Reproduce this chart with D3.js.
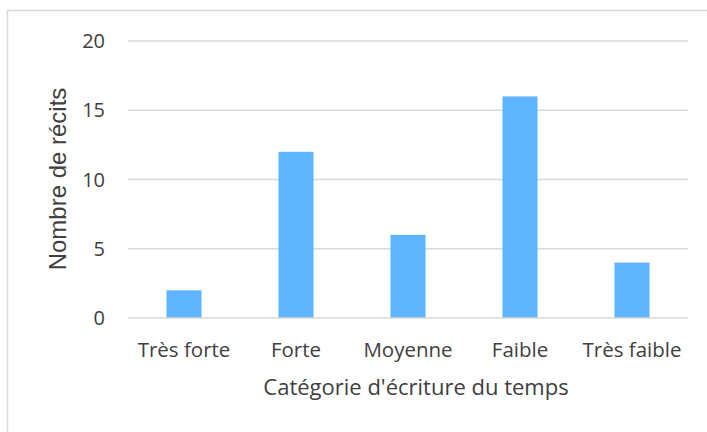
<!DOCTYPE html>
<html>
<head>
<meta charset="utf-8">
<script src="https://cdn.jsdelivr.net/npm/d3@7"></script>
<style>
  html, body { margin: 0; padding: 0; background: #fff; }
  svg { display: block; }
</style>
</head>
<body>
<svg id="chart" width="707" height="432"></svg>
<script>
const categories = ['Très forte', 'Forte', 'Moyenne', 'Faible', 'Très faible'];
const counts = [2, 12, 6, 16, 4];
const yTicks = [0, 5, 10, 15, 20];
const xTitle = "Catégorie d'écriture du temps";
const yTitle = 'Nombre de récits';

const W = 707, H = 432;
const plot = { left: 128, right: 688, top: 41, bottom: 318 };

const svg = d3.select('#chart');

// outer frame (cropped at right/bottom)
svg.append('rect')
  .attr('x', 7.5).attr('y', 10.5)
  .attr('width', W + 10).attr('height', H + 10)
  .attr('fill', '#fff')
  .attr('stroke', '#d9d9d9')
  .attr('stroke-width', 1.5);

const x = d3.scaleBand()
  .domain(categories)
  .range([plot.left, plot.right])
  .paddingInner(0.6875)
  .paddingOuter(0.34375);

const y = d3.scaleLinear()
  .domain([0, 20])
  .range([plot.bottom, plot.top]);

// gridlines
svg.append('g')
  .selectAll('line')
  .data(yTicks.filter(d => d > 0))
  .join('line')
  .attr('x1', plot.left).attr('x2', plot.right)
  .attr('y1', d => y(d)).attr('y2', d => y(d))
  .attr('stroke', '#d9d9d9')
  .attr('stroke-width', 1.3);

// bars
svg.append('g')
  .selectAll('rect')
  .data(counts)
  .join('rect')
  .attr('x', (d, i) => x(categories[i]))
  .attr('y', d => y(d))
  .attr('width', x.bandwidth())
  .attr('height', d => y(0) - y(d))
  .attr('fill', '#5eb4ff');

// baseline
svg.append('line')
  .attr('x1', plot.left).attr('x2', plot.right)
  .attr('y1', y(0)).attr('y2', y(0))
  .attr('stroke', '#d9d9d9')
  .attr('stroke-width', 1.5);

const font = "'Open Sans', sans-serif";

// y tick labels
svg.append('g')
  .selectAll('text')
  .data(yTicks)
  .join('text')
  .attr('x', 105)
  .attr('y', d => y(d))
  .attr('dy', '0.35em')
  .attr('text-anchor', 'end')
  .attr('font-family', font)
  .attr('font-size', 20)
  .attr('fill', '#404040')
  .text(d => d);

// x tick labels
svg.append('g')
  .selectAll('text')
  .data(categories)
  .join('text')
  .attr('x', d => x(d) + x.bandwidth() / 2)
  .attr('y', 357)
  .attr('text-anchor', 'middle')
  .attr('font-family', font)
  .attr('font-size', 20.5)
  .attr('fill', '#404040')
  .text(d => d);

// axis titles
svg.append('text')
  .attr('x', 416)
  .attr('y', 395)
  .attr('text-anchor', 'middle')
  .attr('font-family', font)
  .attr('font-size', 22)
  .attr('fill', '#404040')
  .text(xTitle);

svg.append('text')
  .attr('transform', 'translate(66, 179) rotate(-90)')
  .attr('text-anchor', 'middle')
  .attr('font-family', "'Liberation Sans', Arial, sans-serif")
  .attr('font-size', 24)
  .attr('fill', '#404040')
  .text(yTitle);
</script>
</body>
</html>
